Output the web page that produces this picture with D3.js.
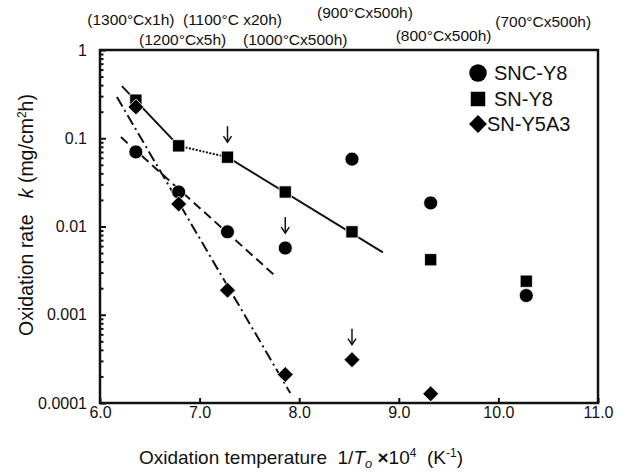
<!DOCTYPE html>
<html>
<head>
<meta charset="utf-8">
<script src="https://cdn.jsdelivr.net/npm/d3@7"></script>
<style>
  body { margin: 0; background: #fff; }
  text { font-family: Arial, 'Liberation Sans', sans-serif; fill: #111; }
</style>
</head>
<body>
<script>
// inverse oxidation temperature 1/T x 10^4 (K^-1) for each condition
const invT = [6.36, 6.79, 7.28, 7.86, 8.53, 9.32, 10.28]
const conditions = ['(1300°Cx1h)', '(1200°Cx5h)', '(1100°C x20h)', '(1000°Cx500h)', '(900°Cx500h)', '(800°Cx500h)', '(700°Cx500h)']
const conditionX = [6.31, 6.83, 7.33, 7.96, 8.66, 9.45, 10.45]

// oxidation rate k (mg/cm2h)
const sncY8 = [0.07, 0.0246, 0.0087, 0.0057, 0.058, 0.0185, 0.00165]
const snY8 = [0.27, 0.082, 0.061, 0.0246, 0.0087, 0.0042, 0.0024]
const snY5A3 = [0.226, 0.018, 0.0019, 0.00021, 0.00031, 0.000127, null]

// fitted lines [x, k]
const fitSolidA = [[6.22, 0.39], [6.79, 0.082]]
const fitDotted = [[6.79, 0.082], [7.28, 0.061]]
const fitSolidB = [[7.28, 0.061], [8.84, 0.0051]]
const fitDashed = [[6.21, 0.103], [7.76, 0.00275]]
const fitDashDot = [[6.17, 0.293], [7.91, 0.00013]]

// arrows mark these points: [series, index]
const arrows = [['snY8', 2], ['sncY8', 3], ['snY5A3', 4]]

const xTicks = [6, 7, 8, 9, 10, 11]
const yTicks = [1, 0.1, 0.01, 0.001, 0.0001]
const yTickLabels = ['1', '0.1', '0.01', '0.001', '0.0001']

const W = 632
const H = 472
const margin = {top: 50, right: 34, bottom: 69, left: 100}
const labelY = [20, 40, 20, 40, 13, 36, 22]

const svg = d3.select('body').append('svg')
  .attr('width', W)
  .attr('height', H)

const x = d3.scaleLinear().domain([6, 11]).range([margin.left, W - margin.right])
const y = d3.scaleLog().domain([0.0001, 1]).range([H - margin.bottom, margin.top])

// axes (ticks point inwards)
const minor = y.ticks().filter(v => !yTicks.includes(v))
svg.append('g')
  .attr('transform', `translate(${margin.left},0)`)
  .call(d3.axisLeft(y).tickValues(minor).tickSize(-3.5).tickFormat(''))
  .call(g => g.select('.domain').remove())

svg.append('g')
  .attr('transform', `translate(${margin.left},0)`)
  .call(d3.axisLeft(y).tickValues(yTicks).tickSize(-6).tickPadding(13)
    .tickFormat((d, i) => yTickLabels[i]))
  .call(g => g.select('.domain').remove())
  .call(g => g.selectAll('text').style('font-size', '16px'))

svg.append('g')
  .attr('transform', `translate(0,${H - margin.bottom})`)
  .call(d3.axisBottom(x).tickValues(xTicks).tickSize(-5).tickPadding(4).tickFormat(d3.format('.1f')))
  .call(g => g.select('.domain').remove())
  .call(g => g.selectAll('text').style('font-size', '16px'))

svg.selectAll('.tick line').attr('stroke', '#111').attr('stroke-width', 2)

svg.append('rect')
  .attr('x', margin.left)
  .attr('y', margin.top)
  .attr('width', W - margin.left - margin.right)
  .attr('height', H - margin.top - margin.bottom)
  .attr('fill', 'none')
  .attr('stroke', '#111')
  .attr('stroke-width', 2.5)

// fit lines
const line = d3.line().x(d => x(d[0])).y(d => y(d[1]))
const fits = [
  [fitSolidA, null],
  [fitDotted, '2,1.5'],
  [fitSolidB, null],
  [fitDashed, '9,5'],
  [fitDashDot, '11,4,2,4'],
]
fits.forEach(([pts, dash]) => {
  svg.append('path')
    .attr('d', line(pts))
    .attr('fill', 'none')
    .attr('stroke', '#111')
    .attr('stroke-width', 2)
    .attr('stroke-dasharray', dash)
})

// markers (diamond = square turned 45deg)
const series = {
  sncY8: {values: sncY8, symbol: d3.symbolCircle, size: 154, rot: 0},
  snY8: {values: snY8, symbol: d3.symbolSquare, size: 150, rot: 0},
  snY5A3: {values: snY5A3, symbol: d3.symbolSquare, size: 128, rot: 45},
}
Object.values(series).forEach(s => {
  const pts = s.values.map((v, i) => [invT[i], v]).filter(d => d[1] != null)
  svg.append('g').selectAll('path')
    .data(pts)
    .join('path')
    .attr('transform', d => `translate(${x(d[0])},${y(d[1])}) rotate(${s.rot})`)
    .attr('d', d3.symbol(s.symbol, s.size))
    .attr('fill', '#000')
    .attr('stroke', '#fff')
    .attr('stroke-width', 0.8)
})

// arrows
arrows.forEach(([key, i]) => {
  const ax = x(invT[i])
  const ay = y(series[key].values[i])
  const g = svg.append('g').attr('stroke', '#111').attr('fill', 'none').attr('stroke-width', 1.5)
  g.append('line').attr('x1', ax).attr('x2', ax).attr('y1', ay - 31).attr('y2', ay - 15)
  g.append('path').attr('d', `M${ax - 4},${ay - 21}L${ax},${ay - 15}L${ax + 4},${ay - 21}`)
})

// condition labels along the top
svg.append('g').selectAll('text')
  .data(conditions)
  .join('text')
  .attr('x', (d, i) => x(conditionX[i]))
  .attr('y', (d, i) => labelY[i])
  .attr('dy', '0.35em')
  .attr('text-anchor', 'middle')
  .style('font-size', '15.5px')
  .text(d => d)

// legend
const legend = [
  ['sncY8', 'SNC-Y8', 478, 73, 0],
  ['snY8', 'SN-Y8', 478, 99, 0],
  ['snY5A3', 'SN-Y5A3', 478, 124, -7],
]
const legendSize = {sncY8: 240, snY8: 210, snY5A3: 160}
legend.forEach(([key, name, lx, ly, shift]) => {
  svg.append('path')
    .attr('transform', `translate(${lx},${ly}) rotate(${series[key].rot})`)
    .attr('d', d3.symbol(series[key].symbol, legendSize[key]))
    .attr('fill', '#000')
  svg.append('text')
    .attr('x', lx + 16 + shift)
    .attr('y', ly)
    .attr('dy', '0.35em')
    .style('font-size', '20px')
    .text(name)
})

// axis titles
const xt = svg.append('text')
  .attr('x', 301)
  .attr('y', 457)
  .attr('dy', '0.35em')
  .attr('text-anchor', 'middle')
  .style('font-size', '19px')
  .attr('xml:space', 'preserve')
xt.append('tspan').text('Oxidation temperature  1/')
xt.append('tspan').style('font-style', 'italic').text('T')
xt.append('tspan').style('font-style', 'italic').style('font-size', '13px').attr('dy', 4).text('o')
xt.append('tspan').attr('dy', -4).text(' ')
xt.append('tspan').style('font-weight', 'bold').text('×')
xt.append('tspan').text('10')
xt.append('tspan').style('font-size', '12px').attr('dy', -7).text('4')
xt.append('tspan').attr('dy', 7).text('  (K')
xt.append('tspan').style('font-size', '12px').attr('dy', -7).text('-1')
xt.append('tspan').attr('dy', 7).text(')')

const yt = svg.append('text')
  .attr('transform', 'translate(26,215) rotate(-90)')
  .attr('dy', '0.35em')
  .attr('text-anchor', 'middle')
  .style('font-size', '19.5px')
  .attr('xml:space', 'preserve')
yt.append('tspan').text('Oxidation rate   ')
yt.append('tspan').style('font-style', 'italic').text('k')
yt.append('tspan').text(' (mg/cm')
yt.append('tspan').style('font-size', '12px').attr('dy', -7).text('2')
yt.append('tspan').attr('dy', 7).text('h)')
</script>
</body>
</html>
